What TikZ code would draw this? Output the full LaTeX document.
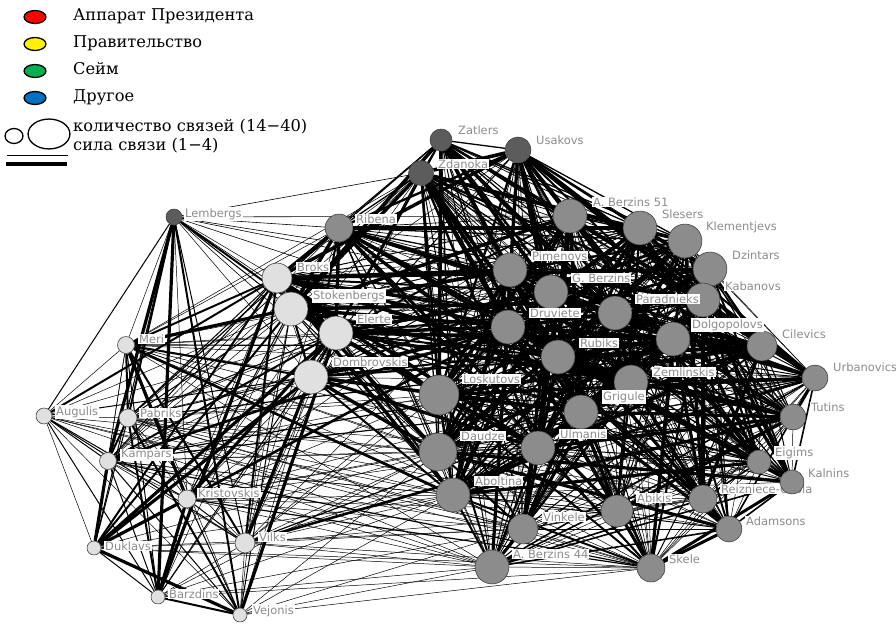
\documentclass[tikz,border=0pt]{standalone}
\usepackage{fontspec}
\setmainfont{DejaVu Serif}
\newfontfamily\lblfont{DejaVu Sans}
\usetikzlibrary{shapes.geometric}
\pgfdeclarelayer{edges}
\pgfdeclarelayer{under}
\pgfdeclarelayer{labels}
\pgfsetlayers{edges,under,main,labels}
\definecolor{darkfill}{gray}{0.36}
\definecolor{midfill}{gray}{0.55}
\definecolor{lightfill}{gray}{0.88}
\definecolor{rimcol}{gray}{0.25}
\definecolor{lbltext}{gray}{0.55}
\definecolor{seimgreen}{RGB}{0,176,80}
\definecolor{otherblue}{RGB}{0,112,192}

\tikzset{
  person/.style={circle,draw=rimcol,line width=0.6,inner sep=0},
  darkv/.style={person,fill=darkfill},
  midv/.style={person,fill=midfill},
  lightv/.style={person,fill=lightfill},
  nm/.style={fill=white,text=lbltext,inner sep=1,anchor=west,font=\lblfont\fontsize{11.5}{13}\selectfont},
  link/.style={line width=#1},
  legmark/.style={ellipse,draw=black,line width=1.3,inner sep=0,minimum width=22,minimum height=13},
  legtext/.style={anchor=base west,inner sep=0,font=\fontsize{16.3}{19}\selectfont}
}

\def\core{rib,ab51,sle,kle,dzi,kab,pim,gbe,par,dru,rub,dol,zem,los,gri,ulm,dau,abo,cil,zat,zda,usa}
\def\rim{vin,ab44,abi,ske,rei,ada,kal,eig,tut,urb}
\def\west{lem,bro,sto,ele,dom,mer,aug,pab,kam,kri,vil,duk,bar,vej}

\begin{document}
\begin{tikzpicture}[x=1bp,y=-1bp]
  \useasboundingbox (0,0) rectangle (896,625);
  \pgfmathsetseed{2011}

  % legend
  \node[legmark,fill=red] (lgred) at (35,17) {};
  \node[legmark,fill=yellow] (lgyel) at (35,44) {};
  \node[legmark,fill=seimgreen] (lggrn) at (35,71) {};
  \node[legmark,fill=otherblue] (lgblu) at (35,98) {};
  \node[legtext] (lgred-t) at (73,21) {Аппарат Президента};
  \node[legtext] (lgyel-t) at (73,48) {Правительство};
  \node[legtext] (lggrn-t) at (73,75) {Сейм};
  \node[legtext] (lgblu-t) at (73,102) {Другое};
  \node[legmark,minimum width=18,minimum height=15] (lgsmall) at (14,136) {};
  \node[legmark,minimum width=42,minimum height=30] (lgbig) at (49,134) {};
  \node[legtext] (lgsize-t) at (73,132) {количество связей (14−40)};
  \node[legtext] (lgwt-t) at (73,151) {сила связи (1−4)};
  \draw[line width=0.8] (7,155) -- (68,155);
  \draw[line width=4] (6,164) -- (67,164);

  % dark nodes
  \node[darkv,minimum size=22] (zat) at (441,140) {};
  \node[darkv,minimum size=25] (zda) at (421,173) {};
  \node[darkv,minimum size=26] (usa) at (518,150) {};
  \node[darkv,minimum size=16] (lem) at (174,217) {};
  % grey nodes
  \node[midv,minimum size=28] (rib) at (339,228) {};
  \node[midv,minimum size=34] (ab51) at (570,216) {};
  \node[midv,minimum size=34] (sle) at (640,228) {};
  \node[midv,minimum size=34] (kle) at (685,241) {};
  \node[midv,minimum size=34] (dzi) at (710,269) {};
  \node[midv,minimum size=34] (kab) at (703,300) {};
  \node[midv,minimum size=34] (pim) at (510,270) {};
  \node[midv,minimum size=34] (gbe) at (551,292) {};
  \node[midv,minimum size=34] (par) at (615,313) {};
  \node[midv,minimum size=34] (dru) at (508,327) {};
  \node[midv,minimum size=34] (rub) at (558,357) {};
  \node[midv,minimum size=34] (dol) at (673,339) {};
  \node[midv,minimum size=34] (zem) at (631,382) {};
  \node[midv,minimum size=34] (gri) at (581,412) {};
  \node[midv,minimum size=40] (los) at (439,395) {};
  \node[midv,minimum size=34] (ulm) at (538,448) {};
  \node[midv,minimum size=38] (dau) at (438,452) {};
  \node[midv,minimum size=34] (abo) at (453,495) {};
  \node[midv,minimum size=30] (vin) at (523,529) {};
  \node[midv,minimum size=34] (ab44) at (492,567) {};
  \node[midv,minimum size=32] (abi) at (617,511) {};
  \node[midv,minimum size=28] (ske) at (651,568) {};
  \node[midv,minimum size=28] (rei) at (703,499) {};
  \node[midv,minimum size=26] (ada) at (729,529) {};
  \node[midv,minimum size=24] (kal) at (792,482) {};
  \node[midv,minimum size=24] (eig) at (759,462) {};
  \node[midv,minimum size=26] (tut) at (793,417) {};
  \node[midv,minimum size=26] (urb) at (815,378) {};
  \node[midv,minimum size=30] (cil) at (762,346) {};
  % light nodes
  \node[lightv,minimum size=30] (bro) at (277,278) {};
  \node[lightv,minimum size=34] (sto) at (291,309) {};
  \node[lightv,minimum size=34] (ele) at (336,333) {};
  \node[lightv,minimum size=34] (dom) at (311,377) {};
  \node[lightv,minimum size=17] (mer) at (126,345) {};
  \node[lightv,minimum size=16] (aug) at (44,416) {};
  \node[lightv,minimum size=18] (pab) at (128,418) {};
  \node[lightv,minimum size=17] (kam) at (108,461) {};
  \node[lightv,minimum size=18] (kri) at (187,499) {};
  \node[lightv,minimum size=20] (vil) at (245,543) {};
  \node[lightv,minimum size=14] (duk) at (94,548) {};
  \node[lightv,minimum size=14] (bar) at (158,597) {};
  \node[lightv,minimum size=14] (vej) at (240,615) {};

  \begin{pgfonlayer}{labels}
    \node[nm] (zat-l) at (457,130) {Zatlers};
    \node[nm] (usa-l) at (535,140) {Usakovs};
    \node[nm] (zda-l) at (437,164) {Zdanoka};
    \node[nm] (lem-l) at (184,214) {Lembergs};
    \node[nm] (rib-l) at (355,219) {Ribena};
    \node[nm] (ab51-l) at (592,202) {A. Berzins 51};
    \node[nm] (sle-l) at (661,214) {Slesers};
    \node[nm] (kle-l) at (705,227) {Klementjevs};
    \node[nm] (dzi-l) at (731,255) {Dzintars};
    \node[nm] (kab-l) at (724,286) {Kabanovs};
    \node[nm] (pim-l) at (531,256) {Pimenovs};
    \node[nm] (gbe-l) at (571,278) {G. Berzins};
    \node[nm] (par-l) at (635,299) {Paradnieks};
    \node[nm] (dru-l) at (529,313) {Druviete};
    \node[nm] (rub-l) at (579,343) {Rubiks};
    \node[nm] (dol-l) at (691,325) {Dolgopolovs};
    \node[nm] (zem-l) at (652,372) {Zemlinskis};
    \node[nm] (gri-l) at (602,397) {Grigule};
    \node[nm] (los-l) at (462,379) {Loskutovs};
    \node[nm] (ulm-l) at (559,434) {Ulmanis};
    \node[nm] (dau-l) at (460,436) {Daudze};
    \node[nm] (abo-l) at (474,481) {Aboltina};
    \node[nm] (vin-l) at (542,517) {Vinkele};
    \node[nm] (ab44-l) at (512,554) {A. Berzins 44};
    \node[nm] (abi-l) at (636,498) {Abikis};
    \node[nm] (ske-l) at (668,559) {Skele};
    \node[nm] (ada-l) at (745,521) {Adamsons};
    \node[nm] (kal-l) at (807,473) {Kalnins};
    \node[nm] (eig-l) at (774,453) {Eigims};
    \node[nm] (tut-l) at (810,407) {Tutins};
    \node[nm] (urb-l) at (832,367) {Urbanovics};
    \node[nm] (cil-l) at (781,334) {Cilevics};
    \node[nm] (bro-l) at (296,267) {Broks};
    \node[nm] (sto-l) at (312,296) {Stokenbergs};
    \node[nm] (ele-l) at (356,319) {Elerte};
    \node[nm] (dom-l) at (332,362) {Dombrovskis};
    \node[nm] (mer-l) at (138,339) {Meri};
    \node[nm] (aug-l) at (55,412) {Augulis};
    \node[nm] (pab-l) at (139,413) {Pabriks};
    \node[nm] (kam-l) at (120,455) {Kampars};
    \node[nm] (kri-l) at (197,493) {Kristovskis};
    \node[nm] (vil-l) at (258,537) {Vilks};
    \node[nm] (duk-l) at (104,546) {Duklavs};
    \node[nm] (bar-l) at (168,594) {Barzdins};
    \node[nm] (vej-l) at (252,611) {Vejonis};
  \end{pgfonlayer}
  \begin{pgfonlayer}{under}
    \node[nm] (rei-l) at (720,489) {Reizniece-Ozola};
  \end{pgfonlayer}

  \begin{pgfonlayer}{edges}
    % centre: almost every pair
    \foreach \a [count=\i] in \core {
      \foreach \b [count=\j] in \core {
        \ifnum\j>\i
          \pgfmathrandominteger{\rnd}{1}{10}
          \pgfmathsetmacro{\lw}{\rnd>7 ? 3.6 : (\rnd>5 ? 2.4 : (\rnd>3 ? 1.3 : 0.7))}
          \draw[link=\lw] (\a) -- (\b);
        \fi
      }
    }
    % right rim to centre
    \foreach \a in \rim {
      \foreach \b in \core {
        \pgfmathrandominteger{\rnd}{1}{10}
        \pgfmathsetmacro{\lw}{\rnd>8 ? 3.2 : (\rnd>6 ? 2 : (\rnd>4 ? 1 : 0.5))}
        \draw[link=\lw] (\a) -- (\b);
      }
    }
    \foreach \a [count=\i] in \rim {
      \foreach \b [count=\j] in \rim {
        \ifnum\j>\i
          \pgfmathrandominteger{\rnd}{1}{10}
          \pgfmathsetmacro{\lw}{\rnd>8 ? 3 : (\rnd>6 ? 1.6 : 0.5)}
          \draw[link=\lw] (\a) -- (\b);
        \fi
      }
    }
    % west group
    \foreach \a [count=\i] in \west {
      \foreach \b [count=\j] in \west {
        \ifnum\j>\i
          \pgfmathrandominteger{\rnd}{1}{10}
          \pgfmathsetmacro{\lw}{\rnd>8 ? 3.2 : (\rnd>6 ? 2 : (\rnd>4 ? 1 : 0.5))}
          \draw[link=\lw] (\a) -- (\b);
        \fi
      }
    }
    \foreach \a in {bro,sto,ele,dom} {
      \foreach \b in \core {
        \pgfmathrandominteger{\rnd}{1}{10}
        \pgfmathsetmacro{\lw}{\rnd>7 ? 3.4 : (\rnd>5 ? 2 : (\rnd>3 ? 1 : 0.5))}
        \draw[link=\lw] (\a) -- (\b);
      }
    }
    \foreach \a in {mer,pab,kam,kri,vil} {
      \foreach \b in {rib,los,dau,abo,ulm,pim,dru,vin,ab44,abi,ske,zda,cil,urb} {
        \pgfmathrandominteger{\rnd}{1}{10}
        \pgfmathsetmacro{\lw}{\rnd>9 ? 2.6 : (\rnd>7 ? 1.2 : 0.5)}
        \draw[link=\lw] (\a) -- (\b);
      }
    }
    \foreach \a in {duk,bar,vej,aug} {
      \foreach \b in {ab44,ske,vin,abo,dau} {
        \draw[link=0.5] (\a) -- (\b);
      }
    }
    \foreach \b in {zda,rib,pim,los,dau,gbe,ab51,dru} {
      \draw[link=0.6] (lem) -- (\b);
    }
  \end{pgfonlayer}
\end{tikzpicture}
\end{document}
